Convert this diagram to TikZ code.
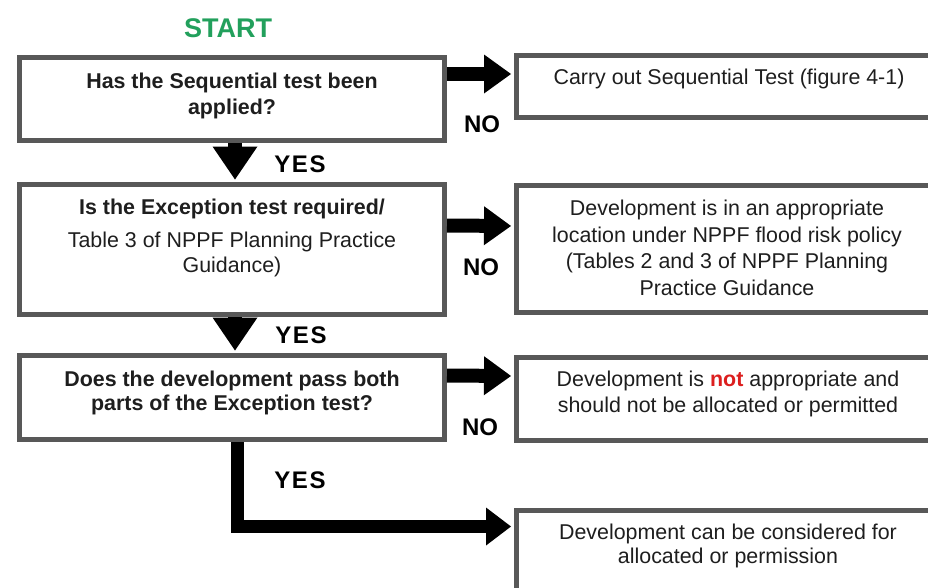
\documentclass[tikz,border=0pt]{standalone}
\usepackage{fontspec}
\setmainfont{Liberation Sans}
\usetikzlibrary{arrows.meta,calc}
\definecolor{boxgray}{RGB}{88,88,88}
\definecolor{txt}{RGB}{30,30,30}
\definecolor{startgreen}{RGB}{34,160,92}
\definecolor{notred}{RGB}{220,30,30}
\tikzset{
  box/.style={draw=boxgray, line width=5pt, rectangle, inner sep=0pt},
  body/.style={font=\fontsize{21.4}{26}\selectfont, text=txt, align=center, inner sep=0pt, anchor=base},
  lbl/.style={font=\fontsize{24}{28}\selectfont\bfseries, text=black, inner sep=0pt, anchor=base},
  harrow/.style={line width=14pt, -{Triangle[length=27pt,width=39pt,line width=0pt]}, shorten >=2.5pt},
  varrow/.style={line width=14pt, -{Triangle[length=33pt,width=45pt,line width=0pt]}, shorten >=2.5pt},
}
\begin{document}
\begin{tikzpicture}[x=1pt,y=-1pt]
\useasboundingbox (0,0) rectangle (928,587);
\clip (0,0) rectangle (928,587);
\fill[white] (0,0) rectangle (928,587);
% left column
\node[box, minimum width=425pt, minimum height=83pt] (b1) at (232,99) {};
\node[box, minimum width=425pt, minimum height=130pt] (b2) at (232,249.5) {};
\node[box, minimum width=425pt, minimum height=84pt] (b3) at (232,397.5) {};
% right column
\node[box, minimum width=424pt, minimum height=62pt] (r1) at (728,86.5) {};
\node[box, minimum width=424pt, minimum height=127pt] (r2) at (728,249) {};
\node[box, minimum width=424pt, minimum height=83pt] (r3) at (728,399) {};
\node[box, minimum width=424pt, minimum height=90pt] (r4) at (728,555.5) {};
% texts (base anchor = baseline of the last line)
\node[font=\fontsize{27}{30}\selectfont\bfseries, text=startgreen, inner sep=0pt, anchor=base] (start) at (228,37) {START};
\node[body, font=\fontsize{21.4}{26}\selectfont\bfseries] (t1) at (232,114) {Has the Sequential test been\\applied?};
\node[body, font=\fontsize{21.4}{26}\selectfont\bfseries] (t2a) at (232,214) {Is the Exception test required/};
\node[body, font=\fontsize{21.4}{25}\selectfont] (t2b) at (232,272) {Table 3 of NPPF Planning Practice\\Guidance)};
\node[body, font=\fontsize{21.4}{24}\selectfont\bfseries] (t3) at (232,410) {Does the development pass both\\parts of the Exception test?};
\node[body] (s1) at (729,84) {Carry out Sequential Test (figure 4-1)};
\node[body, font=\fontsize{21.4}{26.5}\selectfont] (s2) at (727,295) {Development is in an appropriate\\location under NPPF flood risk policy\\(Tables 2 and 3 of NPPF Planning\\Practice Guidance};
\node[body] (s3) at (728,412) {Development is \textbf{\textcolor{notred}{not}} appropriate and\\should not be allocated or permitted};
\node[body, font=\fontsize{21.4}{23.5}\selectfont] (s4) at (728,563) {Development can be considered for\\allocated or permission};
% labels
\node[lbl] (no1) at (482,132) {NO};
\node[lbl] (no2) at (481,275) {NO};
\node[lbl] (no3) at (480,435) {NO};
\node[lbl] (yes1) at (300,172) {Y\kern1.5ptE\kern1.5ptS};
\node[lbl] (yes2) at (301,343) {Y\kern1.5ptE\kern1.5ptS};
\node[lbl] (yes3) at (300,488) {Y\kern1.5ptE\kern1.5ptS};
% connectors
\draw[harrow] ($(b1.north east)+(0,19)$) -- ($(r1.north west)+(0,21)$);
\draw[harrow] ($(b2.north east)+(0,43.5)$) -- ($(r2.north west)+(0,43)$);
\draw[harrow] ($(b3.north east)+(0,22.5)$) -- ($(r3.north west)+(0,21)$);
\draw[varrow] ($(b1.south)+(3,0)$) -- ($(b2.north)+(3,0)$);
\draw[varrow] ($(b2.south)+(3,0)$) -- ($(b3.north)+(3,0)$);
\draw[line width=13pt, line join=miter, -{Triangle[length=25pt,width=38pt,line width=0pt]}, shorten >=2.5pt]
  ($(b3.south)+(5,0)$) |- ($(r4.north west)+(0,18.5)$);
\end{tikzpicture}
\end{document}
